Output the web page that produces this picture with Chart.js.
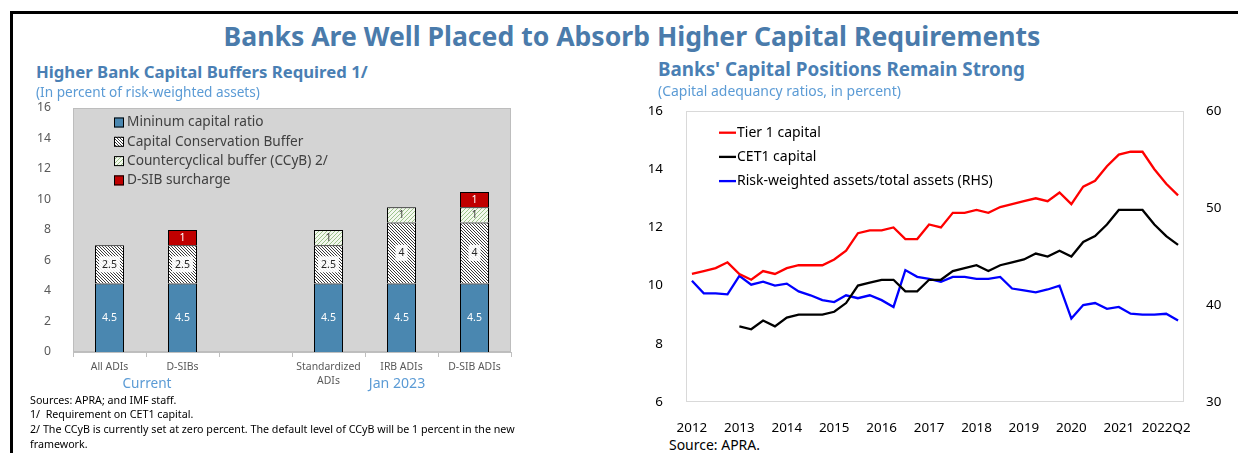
<!DOCTYPE html>
<html>
<head>
<meta charset="utf-8">
<script src="https://cdn.jsdelivr.net/npm/chart.js@4.4.1/dist/chart.umd.min.js"></script>
<style>
  body { margin: 0; background: #fff; font-family: "Noto Sans", sans-serif; }
  #page { position: relative; width: 1238px; height: 453px; overflow: hidden; }
  .frame { position: absolute; left: 10px; top: 11px; width: 1300px; height: 500px; border-top: 3px solid #000; border-left: 3px solid #000; }
  .txt { position: absolute; white-space: nowrap; line-height: 1; transform: translateY(-50%); }
  .mid { transform: translate(-50%, -50%); }
  .bold { font-weight: bold; color: #4a7fb4; }
  .light { color: #5b9bd5; }
  .foot { color: #000; }
  canvas { position: absolute; }
</style>
</head>
<body>
<div id="page">
  <div class="frame"></div>
  <canvas id="buffers" width="500" height="300" style="left:20px; top:98px;"></canvas>
  <canvas id="positions" width="598" height="335" style="left:640px; top:100px;"></canvas>

  <div class="txt mid bold" data-w="817" style="left:632px; top:36px; color:#4a7bab;">Banks Are Well Placed to Absorb Higher Capital Requirements</div>

  <div class="txt bold" data-w="332" style="left:36px; top:72px;">Higher Bank Capital Buffers Required 1/</div>
  <div class="txt light" data-w="224" style="left:36px; top:92px;">(In percent of risk-weighted assets)</div>
  <div class="txt mid light" data-w="49" style="left:147px; top:383px;">Current</div>
  <div class="txt mid light" data-w="56.5" style="left:397px; top:383px;">Jan 2023</div>
  <div class="txt foot" style="left:30px; top:400px;">Sources: APRA; and IMF staff.</div>
  <div class="txt foot" style="left:30px; top:414px;">1/&nbsp; Requirement on CET1 capital.</div>
  <div class="txt foot" id="longNote" style="left:30px; top:429px;">2/ The CCyB is currently set at zero percent. The default level of CCyB will be 1 percent in the new</div>
  <div class="txt foot" style="left:30px; top:444px;">framework.</div>

  <div class="txt bold" data-w="367" style="left:658px; top:69px;">Banks' Capital Positions Remain Strong</div>
  <div class="txt light" data-w="243" style="left:658px; top:91px;">(Capital adequancy ratios, in percent)</div>
  <div class="txt foot" data-w="91" style="left:669px; top:445px;">Source: APRA.</div>
</div>

<script>
// Left panel: buffer requirements (percent of RWA)
const categories = ['All ADIs', 'D-SIBs', '', ['Standardized', 'ADIs'], 'IRB ADIs', 'D-SIB ADIs'];
const minCapital = [4.5, 4.5, null, 4.5, 4.5, 4.5];
const conservationBuffer = [2.5, 2.5, null, 2.5, 4, 4];
const countercyclicalBuffer = [null, null, null, 1, 1, 1];
const dsibSurcharge = [null, 1, null, null, null, 1];

// Right panel: quarterly capital ratios, 2012 to 2022Q2
const quarterTicks = [
  '2012', '', '', '',
  '2013', '', '', '',
  '2014', '', '', '',
  '2015', '', '', '',
  '2016', '', '', '',
  '2017', '', '', '',
  '2018', '', '', '',
  '2019', '', '', '',
  '2020', '', '', '',
  '2021', '', '', '',
  '2022Q2', ''
];
const tier1 = [10.4, 10.5, 10.6, 10.8, 10.4, 10.2, 10.5, 10.4, 10.6, 10.7, 10.7, 10.7, 10.9, 11.2,
  11.8, 11.9, 11.9, 12.0, 11.6, 11.6, 12.1, 12.0, 12.5, 12.5, 12.6, 12.5, 12.7, 12.8,
  12.9, 13.0, 12.9, 13.2, 12.8, 13.4, 13.6, 14.1, 14.5, 14.6, 14.6, 14.0, 13.5, 13.1];
const cet1 = [null, null, null, null, 8.6, 8.5, 8.8, 8.6, 8.9, 9.0, 9.0, 9.0, 9.1, 9.4,
  10.0, 10.1, 10.2, 10.2, 9.8, 9.8, 10.2, 10.2, 10.5, 10.6, 10.7, 10.5, 10.7, 10.8,
  10.9, 11.1, 11.0, 11.2, 11.0, 11.5, 11.7, 12.1, 12.6, 12.6, 12.6, 12.1, 11.7, 11.4];
const rwaShare = [42.5, 41.2, 41.2, 41.1, 43.0, 42.1, 42.4, 42.0, 42.2, 41.4, 41.0, 40.5, 40.3, 41.0,
  40.7, 41.0, 40.5, 39.8, 43.6, 42.9, 42.7, 42.4, 42.9, 42.9, 42.7, 42.7, 42.9, 41.7,
  41.5, 41.3, 41.6, 42.0, 38.6, 40.0, 40.2, 39.6, 39.8, 39.1, 39.0, 39.0, 39.1, 38.4];

const FONT = '"Noto Sans", sans-serif';
const measureCtx = document.createElement('canvas').getContext('2d');

// font size (px) that makes text span the given width
function fitSize(text, width, weight) {
  measureCtx.font = `${weight || 'normal'} 100px ${FONT}`;
  return 100 * width / measureCtx.measureText(text).width;
}

document.querySelectorAll('[data-w]').forEach(el => {
  const weight = el.classList.contains('bold') ? 'bold' : 'normal';
  el.style.fontSize = fitSize(el.textContent, +el.dataset.w, weight) + 'px';
});
const footSize = fitSize(document.getElementById('longNote').textContent, 485);
document.querySelectorAll('.foot:not([data-w])').forEach(el => { el.style.fontSize = footSize + 'px'; });

const catSize = fitSize('Standardized', 64.5);
const leftTickSize = fitSize('16', 14);
const legendSize = fitSize('Countercyclical buffer (CCyB) 2/', 201);
const lineLegendSize = fitSize('Risk-weighted assets/total assets (RHS)', 256);
const rightTickSize = fitSize('2022Q2', 48.8);

// fixed axis sizes so the plot areas land where the reference has them
function fixWidth(w) {
  return s => { s.width = w; s.paddingTop = 0; s.paddingBottom = 0; };
}

const leftCanvas = document.getElementById('buffers');
const leftCtx = leftCanvas.getContext('2d');

function hatch(bg, fg, size, back, lw) {
  const tile = document.createElement('canvas');
  tile.width = tile.height = size;
  const g = tile.getContext('2d');
  g.fillStyle = bg;
  g.fillRect(0, 0, size, size);
  g.strokeStyle = fg;
  g.lineWidth = lw || 1;
  g.beginPath();
  if (back) {
    g.moveTo(-1, -1); g.lineTo(size + 1, size + 1);
    g.moveTo(-1, size - 1); g.lineTo(1, size + 1);
    g.moveTo(size - 1, -1); g.lineTo(size + 1, 1);
  } else {
    g.moveTo(-1, size + 1); g.lineTo(size + 1, -1);
    g.moveTo(-1, 1); g.lineTo(1, -1);
    g.moveTo(size - 1, size + 1); g.lineTo(size + 1, size - 1);
  }
  g.stroke();
  return leftCtx.createPattern(tile, 'repeat');
}

const grayPanel = {
  id: 'grayPanel',
  beforeDraw(chart) {
    const { ctx, chartArea: a } = chart;
    ctx.save();
    ctx.fillStyle = '#d4d4d4';
    ctx.fillRect(a.left, a.top, a.right - a.left, a.bottom - a.top);
    ctx.strokeStyle = '#bdbdbd';
    ctx.lineWidth = 1;
    ctx.strokeRect(a.left + 0.5, a.top + 0.5, a.right - a.left - 1, a.bottom - a.top - 1);
    ctx.restore();
  }
};

const barLabels = {
  id: 'barLabels',
  afterDatasetsDraw(chart) {
    const ctx = chart.ctx;
    ctx.save();
    ctx.font = `10.5px ${FONT}`;
    ctx.textAlign = 'center';
    ctx.textBaseline = 'middle';
    chart.data.datasets.forEach((ds, i) => {
      chart.getDatasetMeta(i).data.forEach((bar, j) => {
        const v = ds.data[j];
        if (v == null) return;
        const y = (bar.y + bar.base) / 2;
        const text = String(v);
        if (ds.labelBox) {
          const w = ctx.measureText(text).width + 6;
          ctx.fillStyle = 'rgba(255,255,255,0.9)';
          ctx.fillRect(bar.x - w / 2, y - 8, w, 16);
        }
        ctx.fillStyle = ds.labelColor;
        ctx.fillText(text, bar.x, y + 0.5);
      });
    });
    ctx.restore();
  }
};

const boxLegend = {
  id: 'boxLegend',
  afterDraw(chart) {
    const { ctx, chartArea } = chart;
    ctx.save();
    ctx.font = `${legendSize}px ${FONT}`;
    ctx.textBaseline = 'middle';
    chart.data.datasets.forEach((ds, i) => {
      const x = chartArea.left + 41;
      const y = chartArea.top + 14.5 + i * 19.3;
      ctx.fillStyle = ds.backgroundColor;
      ctx.fillRect(x, y - 5, 10, 10);
      ctx.strokeStyle = '#000';
      ctx.lineWidth = 1;
      ctx.strokeRect(x + 0.5, y - 4.5, 9, 9);
      ctx.fillStyle = '#404040';
      ctx.fillText(ds.label, x + 13, y);
    });
    ctx.restore();
  }
};

new Chart(leftCanvas, {
  type: 'bar',
  data: {
    labels: categories,
    datasets: [
      { label: 'Mininum capital ratio', data: minCapital, backgroundColor: '#4a87b0', labelColor: '#ffffff' },
      { label: 'Capital Conservation Buffer', data: conservationBuffer, backgroundColor: hatch('#ffffff', '#3a3a3a', 3, true, 1), labelColor: '#262626', labelBox: true },
      { label: 'Countercyclical buffer (CCyB) 2/', data: countercyclicalBuffer, backgroundColor: hatch('#f3f8ee', '#9cc38a', 4, false), labelColor: '#404040' },
      { label: 'D-SIB surcharge', data: dsibSurcharge, backgroundColor: '#c00000', labelColor: '#ffffff' }
    ]
  },
  options: {
    responsive: false,
    animation: false,
    layout: { padding: { top: 10, right: 9, left: 0, bottom: 0 } },
    datasets: { bar: { barPercentage: 29 / 73, categoryPercentage: 1, borderColor: '#000', borderWidth: 1 } },
    plugins: { legend: { display: false }, tooltip: { enabled: false } },
    scales: {
      x: {
        stacked: true,
        grid: { offset: true, drawOnChartArea: false, drawTicks: true, tickLength: 5, color: '#bfbfbf' },
        border: { color: '#bfbfbf' },
        ticks: { color: '#595959', padding: 4, maxRotation: 0, autoSkip: false, font: { family: FONT, size: catSize, lineHeight: 1.25 } },
        afterFit: s => { s.height = 46; }
      },
      y: {
        stacked: true,
        min: 0,
        max: 16,
        grid: { display: false },
        border: { display: false },
        ticks: { stepSize: 2, color: '#595959', padding: 14, font: { family: FONT, size: leftTickSize } },
        afterFit: fixWidth(53)
      }
    }
  },
  plugins: [grayPanel, barLabels, boxLegend]
});

const plotFrame = {
  id: 'plotFrame',
  beforeDatasetsDraw(chart) {
    const { ctx, chartArea: a } = chart;
    ctx.save();
    ctx.strokeStyle = '#d9d9d9';
    ctx.lineWidth = 1;
    ctx.strokeRect(a.left + 0.5, a.top + 0.5, a.right - a.left - 1, a.bottom - a.top - 1);
    ctx.restore();
  }
};

const lineLegend = {
  id: 'lineLegend',
  afterDraw(chart) {
    const { ctx, chartArea } = chart;
    ctx.save();
    ctx.font = `${lineLegendSize}px ${FONT}`;
    ctx.textBaseline = 'middle';
    chart.data.datasets.forEach((ds, i) => {
      const x = chartArea.left + 33;
      const y = chartArea.top + 21.7 + i * 24.2;
      ctx.strokeStyle = ds.borderColor;
      ctx.lineWidth = 2.3;
      ctx.beginPath();
      ctx.moveTo(x, y);
      ctx.lineTo(x + 17, y);
      ctx.stroke();
      ctx.fillStyle = '#000';
      ctx.fillText(ds.label, x + 18, y);
    });
    ctx.restore();
  }
};

new Chart(document.getElementById('positions'), {
  type: 'line',
  data: {
    labels: quarterTicks,
    datasets: [
      { label: 'Tier 1 capital', data: tier1, borderColor: '#ff0000', yAxisID: 'y' },
      { label: 'CET1 capital', data: cet1, borderColor: '#000000', yAxisID: 'y' },
      { label: 'Risk-weighted assets/total assets (RHS)', data: rwaShare, borderColor: '#0000ff', yAxisID: 'y1' }
    ]
  },
  options: {
    responsive: false,
    animation: false,
    layout: { padding: { top: 11, right: 0, left: 0, bottom: 0 } },
    elements: { line: { borderWidth: 2.3, tension: 0 }, point: { radius: 0 } },
    plugins: { legend: { display: false }, tooltip: { enabled: false } },
    scales: {
      x: {
        offset: true,
        grid: { display: false },
        border: { display: false },
        ticks: { autoSkip: false, maxRotation: 0, padding: 10, color: '#000', font: { family: FONT, size: rightTickSize } },
        afterFit: s => { s.height = 33; }
      },
      y: {
        position: 'left',
        min: 6,
        max: 16,
        grid: { display: false },
        border: { display: false },
        ticks: { stepSize: 2, padding: 15, color: '#000', font: { family: FONT, size: rightTickSize } },
        afterFit: fixWidth(46)
      },
      y1: {
        position: 'right',
        min: 30,
        max: 60,
        grid: { display: false },
        border: { display: false },
        ticks: { stepSize: 10, padding: 14, color: '#000', font: { family: FONT, size: rightTickSize } },
        afterFit: fixWidth(54)
      }
    }
  },
  plugins: [plotFrame, lineLegend]
});
</script>
</body>
</html>
